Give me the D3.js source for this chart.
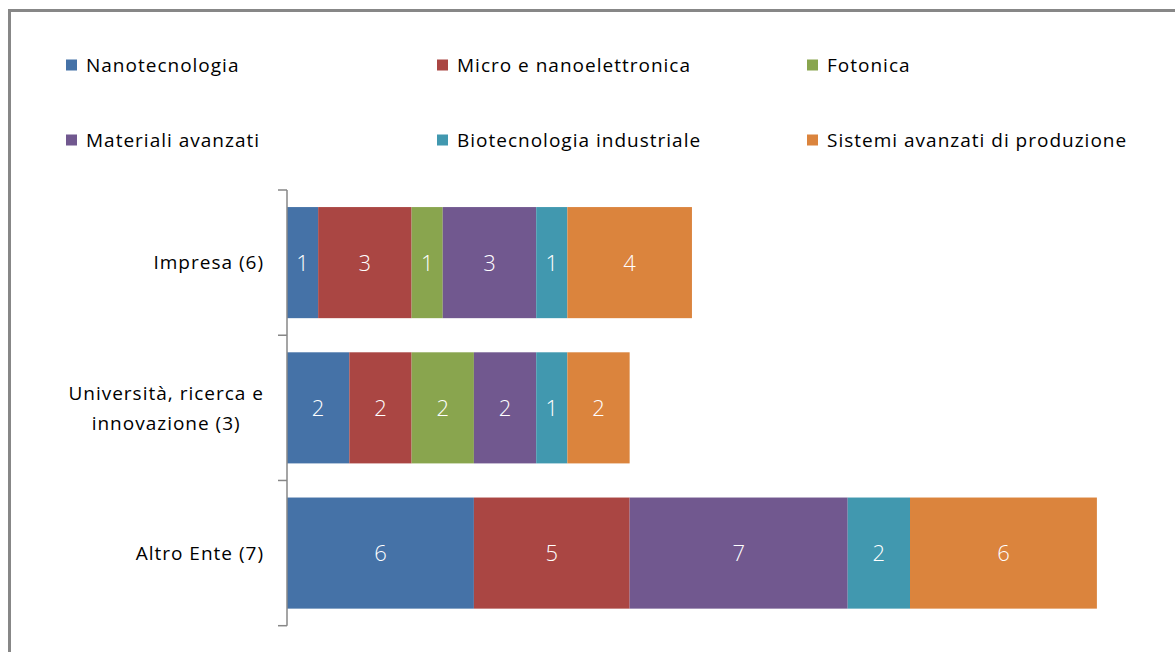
<!DOCTYPE html>
<html>
<head>
<meta charset="utf-8">
<script src="https://cdn.jsdelivr.net/npm/d3@7"></script>
<style>
  html, body { margin: 0; padding: 0; background: #fff; }
  svg { display: block; }
  text { font-family: "Open Sans", "Noto Sans", sans-serif; letter-spacing: 1px; }
</style>
</head>
<body>
<svg id="chart" width="1175" height="652"></svg>
<script>
const categories = ["Impresa (6)", "Università, ricerca e\ninnovazione (3)", "Altro Ente (7)"];
const seriesNames = ["Nanotecnologia", "Micro e nanoelettronica", "Fotonica", "Materiali avanzati", "Biotecnologia industriale", "Sistemi avanzati di produzione"];
const nanotecnologia = [1, 2, 6];
const microNano = [3, 2, 5];
const fotonica = [1, 2, 0];
const materiali = [3, 2, 7];
const biotecnologia = [1, 1, 2];
const sistemi = [4, 2, 6];
const colors = ["#4572A7", "#AA4643", "#89A54E", "#71588F", "#4198AF", "#DB843D"];

const seriesValues = [nanotecnologia, microNano, fotonica, materiali, biotecnologia, sistemi];
const rows = categories.map((c, i) => {
  const r = { cat: c };
  seriesNames.forEach((s, j) => r[s] = seriesValues[j][i]);
  return r;
});

const FS = 19;
const svg = d3.select("#chart");

// outer frame
svg.append("rect")
  .attr("x", 9.5).attr("y", 10.5)
  .attr("width", 1200).attr("height", 700)
  .attr("fill", "none").attr("stroke", "#878787").attr("stroke-width", 3);

const x = d3.scaleLinear().domain([0, 28]).range([287, 287 + 28 * 31.15]);
const y = d3.scaleBand().domain(categories).range([190, 625.7])
  .paddingInner(0.235).paddingOuter(0.1175);

const stacked = d3.stack().keys(seriesNames)(rows);

const g = svg.append("g");
stacked.forEach((layer, j) => {
  const lg = g.append("g").attr("fill", colors[j]);
  layer.forEach((d) => {
    const w = x(d[1]) - x(d[0]);
    if (w <= 0) return;
    lg.append("rect")
      .attr("x", x(d[0]))
      .attr("y", y(d.data.cat))
      .attr("width", w)
      .attr("height", y.bandwidth());
    g.append("text")
      .attr("x", (x(d[0]) + x(d[1])) / 2 + 0.5)
      .attr("y", y(d.data.cat) + y.bandwidth() / 2)
      .attr("dy", "0.36em")
      .attr("text-anchor", "middle")
      .attr("fill", "#fff")
      .attr("font-size", 22)
      .attr("font-weight", 300)
      .text(d[1] - d[0]);
  });
});

// y axis line with ticks between categories
const axisG = svg.append("g").attr("stroke", "#878787").attr("stroke-width", 1.5);
axisG.append("line").attr("x1", 287).attr("x2", 287).attr("y1", 190).attr("y2", 625.7);
const bounds = d3.range(categories.length + 1).map(i => 190 + i * (625.7 - 190) / categories.length);
bounds.forEach(t => {
  axisG.append("line").attr("x1", 278).attr("x2", 287).attr("y1", t).attr("y2", t);
});

// category labels
categories.forEach(c => {
  const lines = c.split("\n");
  const cy = y(c) + y.bandwidth() / 2;
  const lh = 30;
  const t = svg.append("text")
    .attr("font-size", FS)
    .attr("fill", "#000")
    .attr("text-anchor", "middle");
  lines.forEach((ln, i) => {
    t.append("tspan")
      .attr("x", 0)
      .attr("y", cy + (i - (lines.length - 1) / 2) * lh)
      .attr("dy", "0.35em")
      .text(ln);
  });
  const bb = t.node().getBBox();
  t.selectAll("tspan").attr("x", 264 - bb.width / 2);
});

// legend
const legX = [66, 437, 807];
const legY = [65, 140];
seriesNames.forEach((s, i) => {
  const lx = legX[i % 3], ly = legY[Math.floor(i / 3)];
  svg.append("rect").attr("x", lx).attr("y", ly - 5.5).attr("width", 11).attr("height", 11).attr("fill", colors[i]);
  svg.append("text").attr("x", lx + 20).attr("y", ly).attr("dy", "0.35em")
    .attr("font-size", FS).attr("fill", "#000").text(s);
});
</script>
</body>
</html>
